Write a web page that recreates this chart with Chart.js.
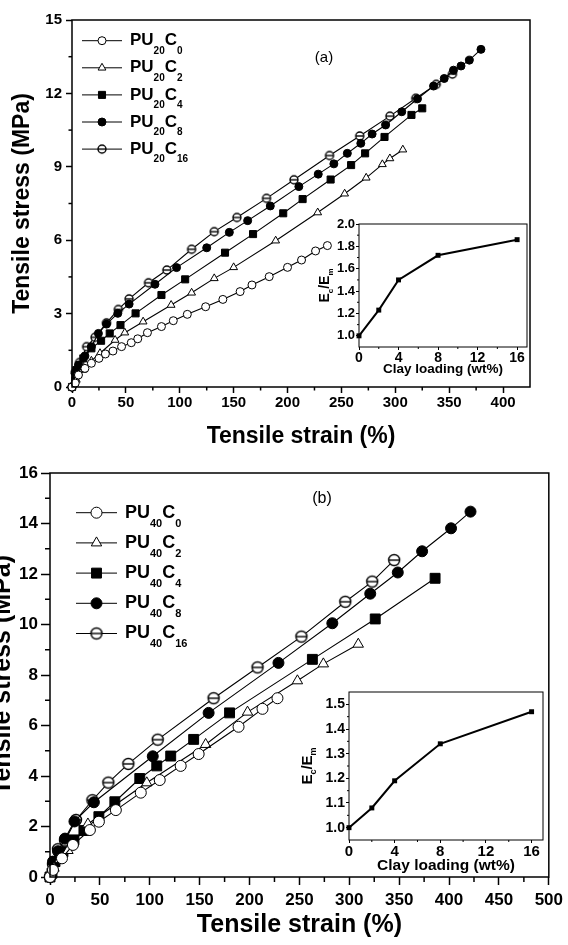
<!DOCTYPE html>
<html>
<head>
<meta charset="utf-8">
<script src="https://cdn.jsdelivr.net/npm/chart.js@4.4.1/dist/chart.umd.min.js"></script>
<style>
  html, body { margin: 0; padding: 0; background: #fff; overflow: hidden; }
  body { width: 568px; height: 945px; position: relative; }
  canvas { position: absolute; }
</style>
</head>
<body>
<canvas id="mainA" width="568" height="450" style="left:0;top:0"></canvas>
<canvas id="mainB" width="580" height="495" style="left:-12px;top:450px"></canvas>
<canvas id="insetA" width="240" height="170" style="left:300px;top:210px"></canvas>
<canvas id="insetB" width="265" height="200" style="left:290px;top:680px"></canvas>
<script>
// clay loadings (wt%) used in the legends and the insets
const loadings = ['0', '2', '4', '8', '16'];
const clayLoading = [0, 2, 4, 8, 16];
const ratioA = [1.0, 1.23, 1.5, 1.72, 1.86];
const ratioB = [1.0, 1.08, 1.19, 1.34, 1.47];

// (a) PU20 series, [strain %, stress MPa]
const pu20c0 = [[0,0],[3,0.16],[6,0.49],[12,0.76],[18,0.97],[25,1.17],[31,1.35],[38,1.47],[46,1.65],[55,1.81],[61,1.97],[70,2.22],[83,2.47],[94,2.71],[107,2.97],[124,3.28],[140,3.58],[156,3.9],[167,4.17],[183,4.51],[200,4.89],[213,5.19],[226,5.56],[237,5.78]];
const pu20c2 = [[0,0],[4,0.29],[10,0.69],[18,1.07],[26,1.38],[40,1.92],[49,2.22],[66,2.67],[92,3.35],[111,3.85],[132,4.44],[150,4.89],[189,5.98],[228,7.13],[253,7.9],[273,8.55],[288,9.1],[295,9.34],[307,9.7]];
const pu20c4 = [[0,0],[3,0.29],[4,0.69],[10.5,1.17],[18,1.58],[27,1.89],[35,2.19],[45,2.53],[59,3.01],[83,3.76],[105,4.4],[142,5.49],[168,6.25],[196,7.1],[214,7.68],[240,8.48],[259,9.07],[272,9.55],[290,10.22],[315,11.12],[325,11.39]];
const pu20c8 = [[0,0],[3,0.56],[6,0.9],[12,1.27],[18,1.65],[24.5,2.19],[32,2.57],[42.5,3.01],[53,3.39],[77,4.2],[97,4.88],[125,5.69],[146,6.32],[163,6.8],[184,7.4],[210.5,8.19],[228.5,8.7],[243,9.12],[255.5,9.55],[268,9.96],[278.5,10.34],[291,10.71],[306,11.25],[320.6,11.78],[335.5,12.3],[345.4,12.61],[354,12.95],[361,13.12],[368.7,13.36],[379.5,13.8]];
const pu20c16 = [[0,0],[3,0.6],[7,1.0],[13.6,1.65],[21.4,2.03],[32,2.62],[43,3.17],[53,3.6],[71,4.26],[88,4.78],[111,5.63],[132,6.35],[153,6.93],[180.5,7.71],[206,8.47],[239,9.46],[267,10.26],[295,11.07],[319,11.8],[338,12.37],[353,12.79]];

// (b) PU40 series
const pu40c0 = [[0,0],[3,0.28],[12,0.74],[23,1.27],[40,1.86],[49,2.19],[66,2.65],[91,3.34],[110,3.84],[131,4.4],[149,4.87],[189,5.95],[213,6.66],[228,7.08]];
const pu40c2 = [[0,0],[4,0.35],[10,0.7],[18,1.05],[38,2.1],[97,3.73],[156,5.25],[198,6.53],[248,7.77],[274,8.44],[309,9.22]];
const pu40c4 = [[0,0],[2,0.15],[5,0.61],[13,1.0],[24,1.47],[34,1.84],[49,2.39],[65,2.98],[90,3.9],[107,4.4],[121,4.79],[144,5.45],[180,6.5],[263,8.62],[326,10.22],[386,11.83]];
const pu40c8 = [[0,0],[3,0.61],[8,1.02],[15,1.52],[24.5,2.2],[44,2.96],[103,4.78],[159,6.5],[229,8.48],[283,10.05],[321,11.22],[348.6,12.06],[373,12.9],[402,13.81],[421.5,14.47]];
const pu40c16 = [[0,0],[3,0.5],[8,1.1],[15,1.45],[26,2.26],[42.5,3.04],[58.5,3.74],[78.5,4.48],[108,5.44],[164,7.08],[208,8.3],[252,9.52],[296,10.9],[323,11.7],[345,12.55]];

// tick values
const aStrainTicks = [0, 50, 100, 150, 200, 250, 300, 350, 400];
const aStressTicks = [0, 3, 6, 9, 12, 15];
const bStrainTicks = [0, 50, 100, 150, 200, 250, 300, 350, 400, 450, 500];
const bStressTicks = [0, 2, 4, 6, 8, 10, 12, 14, 16];
const insetXTicks = [0, 4, 8, 12, 16];
const insetATicks = [1.0, 1.2, 1.4, 1.6, 1.8, 2.0];
const insetBTicks = [1.0, 1.1, 1.2, 1.3, 1.4, 1.5];

const FONT = '"Liberation Sans", Arial, Helvetica, sans-serif';
Chart.defaults.font.family = FONT;
Chart.defaults.color = '#000';

function mids(t) {
  return t.slice(1).map((v, i) => (v + t[i]) / 2);
}

// circle with a horizontal bar, used for the C16 series
function barCircle(r) {
  const c = document.createElement('canvas');
  const s = 2 * Math.ceil(r + 2);
  c.width = c.height = s;
  const g = c.getContext('2d');
  g.fillStyle = '#fff';
  g.strokeStyle = '#000';
  g.lineWidth = 1.4;
  g.beginPath();
  g.arc(s / 2, s / 2, r, 0, Math.PI * 2);
  g.fill();
  g.stroke();
  g.beginPath();
  g.moveTo(s / 2 - r, s / 2);
  g.lineTo(s / 2 + r, s / 2);
  g.stroke();
  return c;
}

function richText(ctx, parts, x, y, size, subDrop, align) {
  const fonts = parts.map(p => 'bold ' + (p[1] ? Math.round(size * 0.6) : size) + 'px ' + FONT);
  let w = 0;
  parts.forEach((p, i) => { ctx.font = fonts[i]; w += ctx.measureText(p[0]).width; });
  let cx = align === 'center' ? x - w / 2 : x;
  parts.forEach((p, i) => {
    ctx.font = fonts[i];
    ctx.fillText(p[0], cx, p[1] ? y + size * subDrop : y);
    cx += ctx.measureText(p[0]).width;
  });
}

function linAxis(o) {
  return {
    type: 'linear',
    min: o.min,
    max: o.max,
    afterBuildTicks: s => { s.ticks = o.ticks.map(v => ({ value: v })); },
    afterFit: s => {
      if (o.width) s.width = o.width;
      if (o.height) s.height = o.height;
    },
    ticks: {
      autoSkip: false, maxRotation: 0, minRotation: 0, padding: o.pad, color: '#000',
      font: { size: o.font, weight: 'bold' },
      callback: v => o.digits ? v.toFixed(o.digits) : String(v)
    },
    grid: { display: true, drawOnChartArea: false, drawTicks: true, tickLength: o.tickLen, tickWidth: o.lw, tickColor: '#000' },
    border: { display: false },
    title: o.title ? {
      display: true, text: o.title, color: '#000',
      font: { size: o.titleSize, weight: 'bold' }, padding: o.titlePad
    } : { display: false }
  };
}

// box round the plot + short minor ticks
const framePlugin = {
  id: 'frame',
  afterDraw(chart, args, opts) {
    const { ctx, chartArea: a } = chart;
    ctx.save();
    ctx.strokeStyle = '#000';
    ctx.lineWidth = opts.width;
    ctx.strokeRect(a.left, a.top, a.right - a.left, a.bottom - a.top);
    const xs = chart.scales.x, ys = chart.scales.y;
    opts.minorX.forEach(v => {
      const p = xs.getPixelForValue(v);
      ctx.beginPath(); ctx.moveTo(p, a.bottom); ctx.lineTo(p, a.bottom + opts.minorLen); ctx.stroke();
    });
    opts.minorY.forEach(v => {
      const p = ys.getPixelForValue(v);
      ctx.beginPath(); ctx.moveTo(a.left, p); ctx.lineTo(a.left - opts.minorLen, p); ctx.stroke();
    });
    ctx.restore();
  }
};

// legend with subscripts, panel tag, rotated inset title
const textPlugin = {
  id: 'figText',
  afterDraw(chart, args, o) {
    const ctx = chart.ctx;
    ctx.save();
    ctx.textBaseline = 'middle';
    ctx.textAlign = 'left';
    if (o.legend) {
      const L = o.legend;
      chart.data.datasets.forEach((ds, i) => {
        const y = L.y + i * L.dy;
        ctx.strokeStyle = '#000';
        ctx.lineWidth = 1;
        ctx.beginPath(); ctx.moveTo(L.x, y); ctx.lineTo(L.x + L.len, y); ctx.stroke();
        ctx.fillStyle = ds.pointBackgroundColor;
        ctx.strokeStyle = '#000';
        Chart.helpers.drawPoint(ctx, { pointStyle: ds.pointStyle, radius: ds.pointRadius, rotation: 0, borderWidth: 1 }, L.x + L.len / 2, y);
        ctx.fillStyle = '#000';
        richText(ctx, [['PU', 0], [L.group, 1], ['C', 0], [loadings[i], 1]], L.x + L.len + L.gap, y, L.size, 0.6);
      });
    }
    if (o.tag) {
      ctx.fillStyle = '#000';
      ctx.textAlign = 'center';
      ctx.font = o.tag.size + 'px ' + FONT;
      ctx.fillText(o.tag.text, o.tag.x, o.tag.y);
    }
    if (o.yTitle) {
      const a = chart.chartArea;
      ctx.fillStyle = '#000';
      ctx.translate(o.yTitle.x, (a.top + a.bottom) / 2);
      ctx.rotate(-Math.PI / 2);
      richText(ctx, [['E', 0], ['c', 1], ['/E', 0], ['m', 1]], 0, 0, o.yTitle.size, 0.4, 'center');
    }
    ctx.restore();
  }
};

function series(pts, style, fill, r) {
  return {
    data: pts.map(p => ({ x: p[0], y: p[1] })),
    showLine: true,
    borderColor: '#000',
    borderWidth: 1.1,
    pointStyle: style,
    pointRadius: r,
    pointBackgroundColor: fill,
    pointBorderColor: '#000',
    pointBorderWidth: 1,
    clip: 10
  };
}

function mainChart(id, sets, cfg) {
  return new Chart(document.getElementById(id), {
    type: 'scatter',
    data: { datasets: sets },
    plugins: [framePlugin, textPlugin],
    options: {
      responsive: false, animation: false, devicePixelRatio: 1,
      layout: { padding: cfg.padding },
      scales: { x: linAxis(cfg.x), y: linAxis(cfg.y) },
      plugins: {
        legend: { display: false }, tooltip: { enabled: false },
        frame: { width: 1.5, minorLen: cfg.minorLen, minorX: mids(cfg.x.ticks), minorY: mids(cfg.y.ticks) },
        figText: { legend: cfg.legend, tag: cfg.tag }
      }
    }
  });
}

function insetChart(id, vals, cfg) {
  return new Chart(document.getElementById(id), {
    type: 'scatter',
    data: { datasets: [{
      data: clayLoading.map((c, i) => ({ x: c, y: vals[i] })),
      showLine: true, borderColor: '#000', borderWidth: 2,
      pointStyle: 'rect', pointRadius: 3.5, pointBackgroundColor: '#000', pointBorderColor: '#000', pointBorderWidth: 0,
      clip: 10
    }] },
    plugins: [framePlugin, textPlugin],
    options: {
      responsive: false, animation: false, devicePixelRatio: 1,
      layout: { padding: cfg.padding },
      scales: { x: linAxis(cfg.x), y: linAxis(cfg.y) },
      plugins: {
        legend: { display: false }, tooltip: { enabled: false },
        frame: { width: 1, minorLen: 2, minorX: mids(cfg.x.ticks), minorY: mids(cfg.y.ticks) },
        figText: { yTitle: cfg.yTitle }
      }
    }
  });
}

const r20 = 4, r40 = 5.5;
mainChart('mainA', [
  series(pu20c0, 'circle', '#fff', r20),
  series(pu20c2, 'triangle', '#fff', r20 + 0.5),
  series(pu20c4, 'rect', '#000', r20 + 1),
  series(pu20c8, 'circle', '#000', r20),
  series(pu20c16, barCircle(r20), '#fff', r20)
], {
  padding: { top: 20, right: 38, left: 0, bottom: 0 },
  minorLen: 3.5,
  x: { min: 0, max: 425, ticks: aStrainTicks, height: 63, font: 15, tickLen: 6, pad: 1, lw: 1.5,
       title: 'Tensile strain (%)', titleSize: 23, titlePad: { top: 0, bottom: 0 } },
  y: { min: 0, max: 15, ticks: aStressTicks, width: 72, font: 15, tickLen: 6, pad: 4, lw: 1.5,
       title: 'Tensile stress (MPa)', titleSize: 23, titlePad: { top: 9, bottom: 0 } },
  legend: { x: 82, y: 40.7, dy: 27.1, len: 40, gap: 8, size: 17, group: '20' },
  tag: { text: '(a)', x: 324, y: 58, size: 15 }
});

mainChart('mainB', [
  series(pu40c0, 'circle', '#fff', r40),
  series(pu40c2, 'triangle', '#fff', r40 + 0.5),
  series(pu40c4, 'rect', '#000', r40 + 1.5),
  series(pu40c8, 'circle', '#000', r40),
  series(pu40c16, barCircle(r40), '#fff', r40)
], {
  padding: { top: 23, right: 17, left: 0, bottom: 0 },
  minorLen: 5,
  x: { min: 0, max: 500, ticks: bStrainTicks, height: 68, font: 17, tickLen: 8, pad: 5, lw: 1.5,
       title: 'Tensile strain (%)', titleSize: 25, titlePad: { top: 0, bottom: 5 } },
  y: { min: 0, max: 16, ticks: bStressTicks, width: 62, font: 17, tickLen: 9, pad: 3, lw: 1.5,
       title: 'Tensile stress (MPa)', titleSize: 25, titlePad: { top: 0, bottom: 0 } },
  legend: { x: 88, y: 62.7, dy: 30.2, len: 41, gap: 8, size: 18, group: '40' },
  tag: { text: '(b)', x: 334, y: 49, size: 16 }
});

insetChart('insetA', ratioA, {
  padding: { top: 14, right: 13, left: 0, bottom: 0 },
  x: { min: 0, max: 17, ticks: insetXTicks, height: 33, font: 14, tickLen: 3, pad: 0, lw: 1,
       title: 'Clay loading (wt%)', titleSize: 13.5, titlePad: { top: 0, bottom: 3 } },
  y: { min: 0.9, max: 2.0, ticks: insetATicks, width: 59, font: 13, tickLen: 3, pad: 1, lw: 1, digits: 1 },
  yTitle: { x: 25, size: 14 }
});

insetChart('insetB', ratioB, {
  padding: { top: 12, right: 12, left: 0, bottom: 0 },
  x: { min: 0, max: 17, ticks: insetXTicks, height: 40, font: 15, tickLen: 3, pad: 0, lw: 1,
       title: 'Clay loading (wt%)', titleSize: 15.5, titlePad: { top: 0, bottom: 5 } },
  y: { min: 0.95, max: 1.55, ticks: insetBTicks, width: 59, font: 14, tickLen: 3, pad: 1, lw: 1, digits: 1 },
  yTitle: { x: 18, size: 15 }
});
</script>
</body>
</html>
